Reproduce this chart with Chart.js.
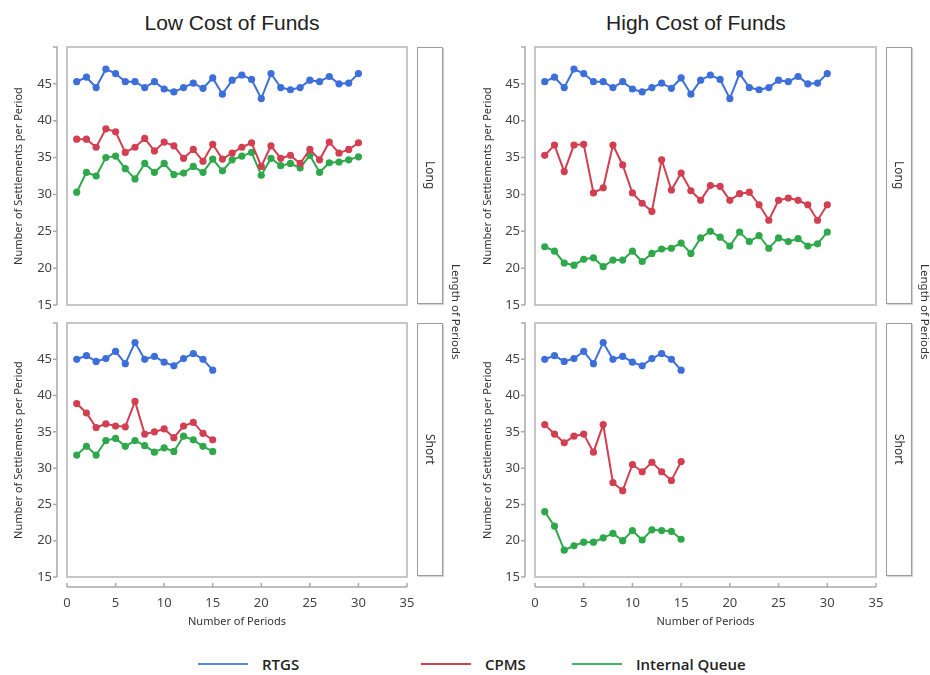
<!DOCTYPE html>
<html>
<head>
<meta charset="utf-8">
<script src="https://cdn.jsdelivr.net/npm/chart.js@4.4.0/dist/chart.umd.min.js"></script>
<style>
  body { margin: 0; background: #fff; width: 930px; height: 675px; position: relative; overflow: hidden; font-family: "Noto Sans", sans-serif; }
  canvas { position: absolute; }
  .head { position: absolute; top: 11px; width: 300px; text-align: center; font: 21px "Liberation Sans", Arial, sans-serif; color: #222; }
  .strip { position: absolute; width: 24px; border: 1.5px solid #9c9c9c; box-shadow: 1px 1px 1px #d4d4d4; display: flex; align-items: center; justify-content: center; }
  .strip span, .side { writing-mode: vertical-rl; font-size: 12px; color: #333; }
  .side { position: absolute; top: 264px; font-size: 11.5px; }
  .leg { position: absolute; top: 652px; height: 24px; display: flex; align-items: center; font: 600 15px "Open Sans", sans-serif; color: #222; }
  .leg i { display: inline-block; width: 50px; height: 2px; margin-right: 14px; }
</style>
</head>
<body>
<div class="head" style="left:82px">Low Cost of Funds</div>
<div class="head" style="left:546px">High Cost of Funds</div>

<canvas id="tl" width="420" height="274" style="left:0;top:39px"></canvas>
<canvas id="bl" width="420" height="320" style="left:0;top:315px"></canvas>
<canvas id="tr" width="420" height="274" style="left:468px;top:39px"></canvas>
<canvas id="br" width="420" height="320" style="left:468px;top:315px"></canvas>

<div class="strip" style="left:417px;top:47px;height:255px"><span>Long</span></div>
<div class="strip" style="left:417px;top:323px;height:251px"><span>Short</span></div>
<div class="strip" style="left:886px;top:47px;height:255px"><span>Long</span></div>
<div class="strip" style="left:886px;top:323px;height:251px"><span>Short</span></div>
<div class="side" style="left:449px">Length of Periods</div>
<div class="side" style="left:918px">Length of Periods</div>

<div class="leg" style="left:198px"><i style="background:#5b88dc"></i>RTGS</div>
<div class="leg" style="left:421px"><i style="background:#cc4650"></i>CPMS</div>
<div class="leg" style="left:572px"><i style="background:#3fb56a"></i>Internal Queue</div>

<script>
const seriesNames = ['RTGS', 'CPMS', 'Internal Queue'];
const periodsLong = [1, 2, 3, 4, 5, 6, 7, 8, 9, 10, 11, 12, 13, 14, 15, 16, 17, 18, 19, 20, 21, 22, 23, 24, 25, 26, 27, 28, 29, 30];
const periodsShort = [1, 2, 3, 4, 5, 6, 7, 8, 9, 10, 11, 12, 13, 14, 15];
const yTicks = [15, 20, 25, 30, 35, 40, 45];
const xTicks = [0, 5, 10, 15, 20, 25, 30, 35];

const rtgsLong = [45.3, 45.9, 44.5, 47.0, 46.4, 45.3, 45.3, 44.5, 45.3, 44.3, 43.9, 44.5, 45.1, 44.4, 45.8, 43.6, 45.5, 46.2, 45.6, 43.0, 46.4, 44.5, 44.2, 44.5, 45.5, 45.3, 46.0, 45.0, 45.1, 46.4];
const cpmsLowLong = [37.5, 37.5, 36.4, 38.9, 38.5, 35.7, 36.4, 37.6, 35.9, 37.1, 36.6, 34.9, 36.1, 34.5, 36.8, 34.8, 35.6, 36.4, 37.0, 33.8, 36.6, 34.9, 35.3, 34.2, 36.1, 34.7, 37.1, 35.6, 36.1, 37.0];
const queueLowLong = [30.3, 33.0, 32.5, 35.0, 35.2, 33.5, 32.1, 34.2, 33.0, 34.2, 32.7, 32.9, 33.8, 33.0, 34.8, 33.2, 34.7, 35.2, 35.7, 32.6, 34.9, 33.9, 34.2, 33.6, 35.3, 33.0, 34.3, 34.4, 34.7, 35.1];
const cpmsHighLong = [35.3, 36.7, 33.1, 36.7, 36.8, 30.2, 30.9, 36.7, 34.0, 30.2, 28.8, 27.7, 34.7, 30.6, 32.9, 30.5, 29.2, 31.2, 31.1, 29.2, 30.1, 30.3, 28.6, 26.5, 29.2, 29.5, 29.2, 28.6, 26.5, 28.6];
const queueHighLong = [22.9, 22.3, 20.7, 20.4, 21.2, 21.4, 20.2, 21.1, 21.1, 22.3, 20.9, 22.0, 22.6, 22.7, 23.4, 22.0, 24.1, 25.0, 24.2, 23.0, 24.9, 23.6, 24.4, 22.7, 24.1, 23.6, 24.0, 23.0, 23.3, 24.9];
const rtgsShort = [45.0, 45.5, 44.7, 45.1, 46.1, 44.4, 47.3, 45.0, 45.4, 44.6, 44.1, 45.1, 45.8, 45.0, 43.5];
const cpmsLowShort = [38.9, 37.6, 35.6, 36.1, 35.8, 35.7, 39.2, 34.7, 35.0, 35.4, 34.2, 35.8, 36.3, 34.8, 33.9];
const queueLowShort = [31.8, 33.0, 31.8, 33.8, 34.1, 33.0, 33.8, 33.1, 32.2, 32.8, 32.3, 34.4, 33.9, 33.0, 32.3];
const cpmsHighShort = [36.0, 34.7, 33.5, 34.4, 34.7, 32.2, 36.0, 28.0, 26.9, 30.5, 29.5, 30.8, 29.5, 28.3, 30.9];
const queueHighShort = [24.0, 22.0, 18.7, 19.3, 19.8, 19.8, 20.4, 21.0, 20.0, 21.4, 20.1, 21.5, 21.4, 21.3, 20.2];

const colors = ['#3d6fdb', '#d23f50', '#2fa84c'];

// frame around plot + offset axis lines like the original
const framePlugin = {
  id: 'frame',
  beforeDatasetsDraw(chart, args, opts) {
    const { ctx, chartArea: a, scales: { x, y } } = chart;
    ctx.save();
    ctx.strokeStyle = '#c6c6c6';
    ctx.lineWidth = 2;
    ctx.strokeRect(a.left, a.top, a.right - a.left, a.bottom - a.top);

    ctx.strokeStyle = '#a9a9a9';
    ctx.lineWidth = 1.5;
    ctx.beginPath();
    const ax = a.left - 10;
    ctx.moveTo(ax - 4, a.top);
    ctx.lineTo(ax, a.top);
    ctx.lineTo(ax, a.bottom);
    y.ticks.forEach(t => {
      const py = y.getPixelForValue(t.value);
      ctx.moveTo(ax, py);
      ctx.lineTo(ax - 4, py);
    });
    if (opts.showX) {
      const ay = a.bottom + 10;
      ctx.moveTo(a.left, ay);
      ctx.lineTo(a.right, ay);
      x.ticks.forEach(t => {
        const px = x.getPixelForValue(t.value);
        ctx.moveTo(px, ay);
        ctx.lineTo(px, ay - 4);
      });
    }
    ctx.stroke();
    ctx.restore();
  }
};

function makePanel(id, periods, rtgs, cpms, queue, showX, titlePad) {
  const series = [rtgs, cpms, queue];
  new Chart(document.getElementById(id), {
    type: 'line',
    data: {
      datasets: series.map((vals, i) => ({
        label: seriesNames[i],
        data: periods.map((p, k) => ({ x: p, y: vals[k] })),
        borderColor: colors[i],
        backgroundColor: colors[i],
        borderWidth: 2,
        pointRadius: 3.6,
        pointBorderWidth: 0,
        tension: 0
      }))
    },
    options: {
      responsive: false,
      animation: false,
      devicePixelRatio: 1,
      layout: { padding: { top: 8, bottom: showX ? 3 : 8, left: 0, right: id[1] === 'l' ? 13 : 12 } },
      plugins: {
        legend: { display: false },
        tooltip: { enabled: false },
        frame: { showX: showX }
      },
      scales: {
        x: {
          type: 'linear',
          display: showX,
          min: 0,
          max: 35,
          afterBuildTicks: s => { s.ticks = xTicks.map(v => ({ value: v })); },
          afterFit: s => { s.height = showX ? 55 : 0; },
          grid: { drawOnChartArea: false, tickLength: 18, color: 'rgba(0,0,0,0)' },
          border: { display: false },
          ticks: { padding: 0, font: { family: 'Noto Sans', size: 13 }, color: '#444', maxRotation: 0, autoSkip: false },
          title: { display: true, text: 'Number of Periods', font: { family: 'Noto Sans', size: 11 }, color: '#333', padding: { top: 0, bottom: 3.4 } }
        },
        y: {
          min: 15,
          max: 50,
          afterBuildTicks: s => { s.ticks = yTicks.map(v => ({ value: v })); },
          afterFit: s => { s.width = 67; },
          grid: { drawOnChartArea: false, tickLength: 15, color: 'rgba(0,0,0,0)' },
          border: { display: false },
          ticks: { padding: 0, font: { family: 'Noto Sans', size: 13 }, color: '#444' },
          title: { display: true, text: 'Number of Settlements per Period', font: { family: 'Noto Sans', size: 11 }, color: '#333', padding: { top: titlePad, bottom: 0 } }
        }
      }
    },
    plugins: [framePlugin]
  });
}

makePanel('tl', periodsLong, rtgsLong, cpmsLowLong, queueLowLong, false, 12.4);
makePanel('bl', periodsShort, rtgsShort, cpmsLowShort, queueLowShort, true, 12.4);
makePanel('tr', periodsLong, rtgsLong, cpmsHighLong, queueHighLong, false, 13.4);
makePanel('br', periodsShort, rtgsShort, cpmsHighShort, queueHighShort, true, 13.4);
</script>
</body>
</html>
